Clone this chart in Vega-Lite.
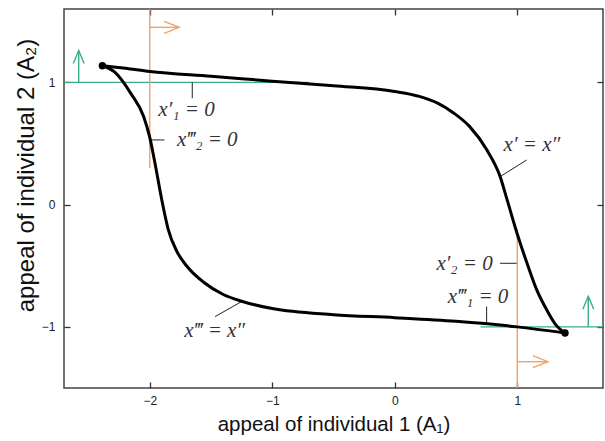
{
  "$schema": "https://vega.github.io/schema/vega-lite/v6.json",
  "width": 539,
  "height": 379,
  "autosize": "none",
  "padding": {"left": 64, "top": 9, "right": 2, "bottom": 53},
  "background": "white",
  "config": {
    "view": {"stroke": "#444", "strokeWidth": 1.5},
    "axis": {
      "grid": false,
      "domain": false,
      "tickColor": "#333",
      "tickWidth": 1.3,
      "tickSize": -6,
      "labelFont": "Liberation Sans",
      "labelFontSize": 12,
      "labelColor": "#222",
      "titleFont": "Liberation Sans",
      "titleFontWeight": "normal",
      "titleColor": "#111"
    }
  },
  "datasets": {
    "curves": [
      {"curve": "upper", "x": -2.387, "y": 1.136},
      {"curve": "upper", "x": -2.2, "y": 1.115},
      {"curve": "upper", "x": -2.0, "y": 1.088},
      {"curve": "upper", "x": -1.5, "y": 1.05},
      {"curve": "upper", "x": -1.0, "y": 1.01},
      {"curve": "upper", "x": -0.5, "y": 0.972},
      {"curve": "upper", "x": 0.0, "y": 0.925},
      {"curve": "upper", "x": 0.2, "y": 0.885},
      {"curve": "upper", "x": 0.35, "y": 0.83},
      {"curve": "upper", "x": 0.48, "y": 0.75},
      {"curve": "upper", "x": 0.61, "y": 0.64},
      {"curve": "upper", "x": 0.75, "y": 0.45},
      {"curve": "upper", "x": 0.86, "y": 0.23},
      {"curve": "upper", "x": 0.92, "y": 0.03},
      {"curve": "upper", "x": 1.0, "y": -0.24},
      {"curve": "upper", "x": 1.08, "y": -0.48},
      {"curve": "upper", "x": 1.16, "y": -0.7},
      {"curve": "upper", "x": 1.24, "y": -0.86},
      {"curve": "upper", "x": 1.32, "y": -0.99},
      {"curve": "upper", "x": 1.39, "y": -1.05},
      {"curve": "lower", "x": -2.387, "y": 1.136},
      {"curve": "lower", "x": -2.29, "y": 1.087},
      {"curve": "lower", "x": -2.155, "y": 0.91},
      {"curve": "lower", "x": -2.05, "y": 0.72},
      {"curve": "lower", "x": -2.0, "y": 0.55},
      {"curve": "lower", "x": -1.95, "y": 0.3},
      {"curve": "lower", "x": -1.9, "y": 0.03},
      {"curve": "lower", "x": -1.85, "y": -0.2},
      {"curve": "lower", "x": -1.78, "y": -0.38},
      {"curve": "lower", "x": -1.7, "y": -0.5},
      {"curve": "lower", "x": -1.56, "y": -0.635},
      {"curve": "lower", "x": -1.4, "y": -0.735},
      {"curve": "lower", "x": -1.25, "y": -0.79},
      {"curve": "lower", "x": -1.0, "y": -0.85},
      {"curve": "lower", "x": -0.5, "y": -0.9},
      {"curve": "lower", "x": 0.0, "y": -0.925},
      {"curve": "lower", "x": 0.5, "y": -0.955},
      {"curve": "lower", "x": 1.0, "y": -1.0},
      {"curve": "lower", "x": 1.39, "y": -1.05}
    ],
    "ends": [
      {"x": -2.387, "y": 1.136},
      {"x": 1.39, "y": -1.05}
    ],
    "green": [
      {"x": -2.7, "x2": -0.7, "y": 1, "y2": 1},
      {"x": 0.7, "x2": 1.7, "y": -1, "y2": -1},
      {"x": -2.58, "x2": -2.58, "y": 1, "y2": 1.26},
      {"x": 1.58, "x2": 1.58, "y": -1, "y2": -0.75}
    ],
    "greenHeads": [
      {"x": -2.58, "y": 1.26},
      {"x": 1.58, "y": -0.75}
    ],
    "orange": [
      {"x": -2, "x2": -2, "y": 1.6, "y2": 0.3},
      {"x": 1, "x2": 1, "y": -0.2, "y2": -1.5},
      {"x": -2, "x2": -1.76, "y": 1.45, "y2": 1.45},
      {"x": 1, "x2": 1.25, "y": -1.285, "y2": -1.285}
    ],
    "orangeHeads": [
      {"x": -1.76, "y": 1.45},
      {"x": 1.25, "y": -1.285}
    ],
    "leaders": [
      {"x": -1.653, "x2": -1.653, "y": 1.0, "y2": 0.87},
      {"x": -1.99, "x2": -1.88, "y": 0.529, "y2": 0.529},
      {"x": 0.86, "x2": 1.077, "y": 0.229, "y2": 0.365},
      {"x": 0.86, "x2": 0.995, "y": -0.48, "y2": -0.48},
      {"x": 0.75, "x2": 0.75, "y": -0.834, "y2": -0.97},
      {"x": -1.467, "x2": -1.25, "y": -0.916, "y2": -0.793}
    ],
    "labels": [
      {"x": -1.70, "y": 0.77, "text": "x′₁ = 0"},
      {"x": -1.53, "y": 0.53, "text": "x‴₂ = 0"},
      {"x": 1.12, "y": 0.49, "text": "x′ = x″"},
      {"x": 0.57, "y": -0.485, "text": "x′₂ = 0"},
      {"x": 0.68, "y": -0.755, "text": "x‴₁ = 0"},
      {"x": -1.47, "y": -1.03, "text": "x‴ = x″"}
    ]
  },
  "resolve": {"axis": {"x": "independent", "y": "independent"}},
  "layer": [
    {
      "data": {"name": "green"},
      "mark": {"type": "rule", "color": "#3aae86", "strokeWidth": 1.4},
      "encoding": {
        "x": {"field": "x", "type": "quantitative",
              "scale": {"domain": [-2.7, 1.7], "nice": false, "zero": false},
              "axis": {"orient": "bottom", "values": [-2, -1, 0, 1], "labelPadding": 13,
                       "labelExpr": "datum.value < 0 ? '−' + abs(datum.value) : datum.label",
                       "title": "appeal of individual 1 (A₁)", "titleFontSize": 20.5, "titlePadding": 8}},
        "x2": {"field": "x2"},
        "y": {"field": "y", "type": "quantitative",
              "scale": {"domain": [-1.5, 1.6], "nice": false, "zero": false},
              "axis": {"orient": "left", "values": [-1, 0, 1], "labelPadding": 15,
                       "labelExpr": "datum.value < 0 ? '−' + abs(datum.value) : datum.label",
                       "title": "appeal of individual 2 (A₂)", "titleFontSize": 24, "titlePadding": 3, "titleY": 166}},
        "y2": {"field": "y2"}
      }
    },
    {
      "data": {"name": "orange"},
      "mark": {"type": "rule", "color": "#f0a26a", "strokeWidth": 1.4},
      "encoding": {
        "x": {"field": "x", "type": "quantitative",
              "axis": {"orient": "top", "values": [-2, -1, 0, 1], "labels": false, "title": null}},
        "x2": {"field": "x2"},
        "y": {"field": "y", "type": "quantitative",
              "axis": {"orient": "right", "values": [-1, 0, 1], "labels": false, "title": null}},
        "y2": {"field": "y2"}
      }
    },
    {
      "data": {"name": "greenHeads"},
      "mark": {"type": "point", "shape": "M-0.42,1L0,0L0.42,1", "filled": false, "stroke": "#3aae86", "strokeWidth": 1.4, "size": 676, "opacity": 1},
      "encoding": {
        "x": {"field": "x", "type": "quantitative", "axis": null},
        "y": {"field": "y", "type": "quantitative", "axis": null}
      }
    },
    {
      "data": {"name": "orangeHeads"},
      "mark": {"type": "point", "shape": "M-1,-0.4L0,0L-1,0.4", "filled": false, "stroke": "#f0a26a", "strokeWidth": 1.4, "size": 900, "opacity": 1},
      "encoding": {
        "x": {"field": "x", "type": "quantitative", "axis": null},
        "y": {"field": "y", "type": "quantitative", "axis": null}
      }
    },
    {
      "data": {"name": "leaders"},
      "mark": {"type": "rule", "color": "#222", "strokeWidth": 1},
      "encoding": {
        "x": {"field": "x", "type": "quantitative", "axis": null},
        "x2": {"field": "x2"},
        "y": {"field": "y", "type": "quantitative", "axis": null},
        "y2": {"field": "y2"}
      }
    },
    {
      "data": {"name": "curves"},
      "mark": {"type": "line", "color": "#000", "strokeWidth": 3, "interpolate": "monotone"},
      "encoding": {
        "x": {"field": "x", "type": "quantitative", "axis": null},
        "y": {"field": "y", "type": "quantitative", "axis": null},
        "detail": {"field": "curve"}
      }
    },
    {
      "data": {"name": "ends"},
      "mark": {"type": "point", "filled": true, "color": "#000", "size": 55, "opacity": 1},
      "encoding": {
        "x": {"field": "x", "type": "quantitative", "axis": null},
        "y": {"field": "y", "type": "quantitative", "axis": null}
      }
    },
    {
      "data": {"name": "labels"},
      "mark": {"type": "text", "font": "Liberation Serif", "fontStyle": "italic", "fontSize": 21, "color": "#333", "align": "center", "baseline": "middle"},
      "encoding": {
        "x": {"field": "x", "type": "quantitative", "axis": null},
        "y": {"field": "y", "type": "quantitative", "axis": null},
        "text": {"field": "text"}
      }
    }
  ]
}
